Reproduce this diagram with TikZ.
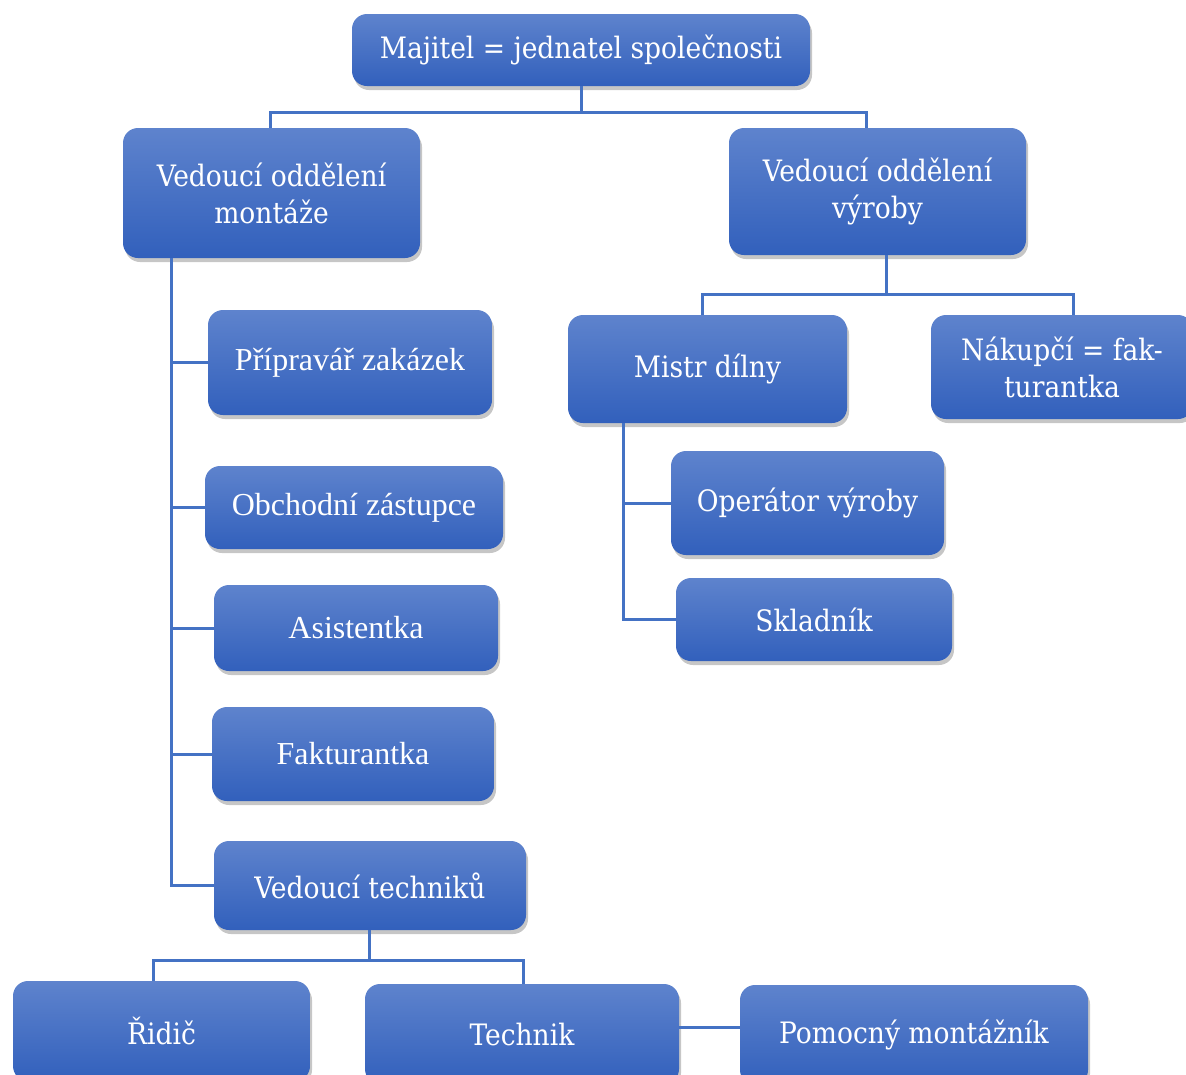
\documentclass[tikz,border=0pt]{standalone}
\usepackage{fontspec}
\setmainfont{Liberation Serif}
\newfontfamily\cambriafont{DejaVu Serif Condensed}
\usetikzlibrary{shadows}
\definecolor{boxtop}{RGB}{94,131,205}
\definecolor{boxbot}{RGB}{50,96,188}
\definecolor{linkblue}{RGB}{68,114,196}

\begin{document}
\begin{tikzpicture}[x=1pt, y=-1pt,
  box/.style={rounded corners=15pt, top color=boxtop, bottom color=boxbot, text=white, align=center, inner sep=0pt,
    drop shadow={shadow xshift=2pt, shadow yshift=-4pt, opacity=0.45}},
  cbox/.style={box, font=\cambriafont\fontsize{29.5}{37}\selectfont},
  tbox/.style={box, font=\fontsize{32}{37}\selectfont},
  conn/.style={linkblue, line width=3pt}]
\useasboundingbox (0,0) rectangle (1186,1074);

% Owner
\node[cbox, minimum width=458pt, minimum height=72pt] (majitel) at (581,50) {Majitel = jednatel společnosti};

% Department heads
\node[cbox, minimum width=297pt, minimum height=130pt] (montaz) at (271.5,193) {Vedoucí oddělení\\montáže};
\node[cbox, minimum width=297pt, minimum height=127pt] (vyroba) at (877.5,191.5) {Vedoucí oddělení\\výroby};

% Assembly department
\node[tbox, minimum width=284pt, minimum height=105pt] (priprav) at (350,362.5) {Přípravář zakázek};
\node[tbox, minimum width=298pt, minimum height=83pt] (obchod) at (354,507.5) {Obchodní zástupce};
\node[tbox, minimum width=284pt, minimum height=86pt] (asist) at (356,628) {Asistentka};
\node[tbox, minimum width=282pt, minimum height=94pt] (faktur) at (353,754) {Fakturantka};
\node[cbox, minimum width=312pt, minimum height=89pt] (vedtech) at (370,885.5) {Vedoucí techniků};

% Technicians
\node[cbox, minimum width=297pt, minimum height=100pt] (ridic) at (161.5,1031) {Řidič};
\node[cbox, minimum width=314pt, minimum height=100pt] (technik) at (522,1034) {Technik};
\node[cbox, minimum width=348pt, minimum height=100pt] (pomocny) at (914,1035) {Pomocný montážník};

% Production department
\node[cbox, minimum width=279pt, minimum height=108pt] (mistr) at (707.5,369) {Mistr dílny};
\node[cbox, minimum width=262pt, minimum height=104pt] (nakup) at (1062,367) {Nákupčí = fak-\\turantka};
\node[cbox, minimum width=273pt, minimum height=104pt] (oper) at (807.5,503) {Operátor výroby};
\node[cbox, minimum width=276pt, minimum height=83pt] (sklad) at (814,619.5) {Skladník};

% Links
\coordinate (j0) at ([yshift=-26pt]majitel.south);
\draw[conn] (majitel.south) -- (j0);
\draw[conn] ([xshift=-1.5pt]montaz.north) |- (j0) -| ([xshift=-11.5pt]vyroba.north);

\coordinate (trunk) at ([xshift=-100pt]montaz.south);
\draw[conn] (trunk) |- (vedtech.west);
\foreach \n in {priprav,obchod,asist,faktur}
  \draw[conn] (\n.west -| trunk) -- (\n.west);

\coordinate (j1) at ([xshift=8.5pt,yshift=-39pt]vyroba.south);
\draw[conn] (j1 |- vyroba.south) -- (j1);
\draw[conn] ([xshift=-5.5pt]mistr.north) |- (j1) -| ([xshift=11pt]nakup.north);

\coordinate (trunk2) at ([xshift=-84.5pt]mistr.south);
\draw[conn] (trunk2) |- (sklad.west);
\draw[conn] (oper.west -| trunk2) -- (oper.west);

\coordinate (j2) at ([xshift=-1pt,yshift=-30pt]vedtech.south);
\draw[conn] (j2 |- vedtech.south) -- (j2);
\draw[conn] ([xshift=-8.5pt]ridic.north) |- (j2) -| ([xshift=1pt]technik.north);
\draw[conn] ([yshift=7pt]technik.east) -- ([yshift=7pt]technik.east -| pomocny.west);
\end{tikzpicture}
\end{document}
